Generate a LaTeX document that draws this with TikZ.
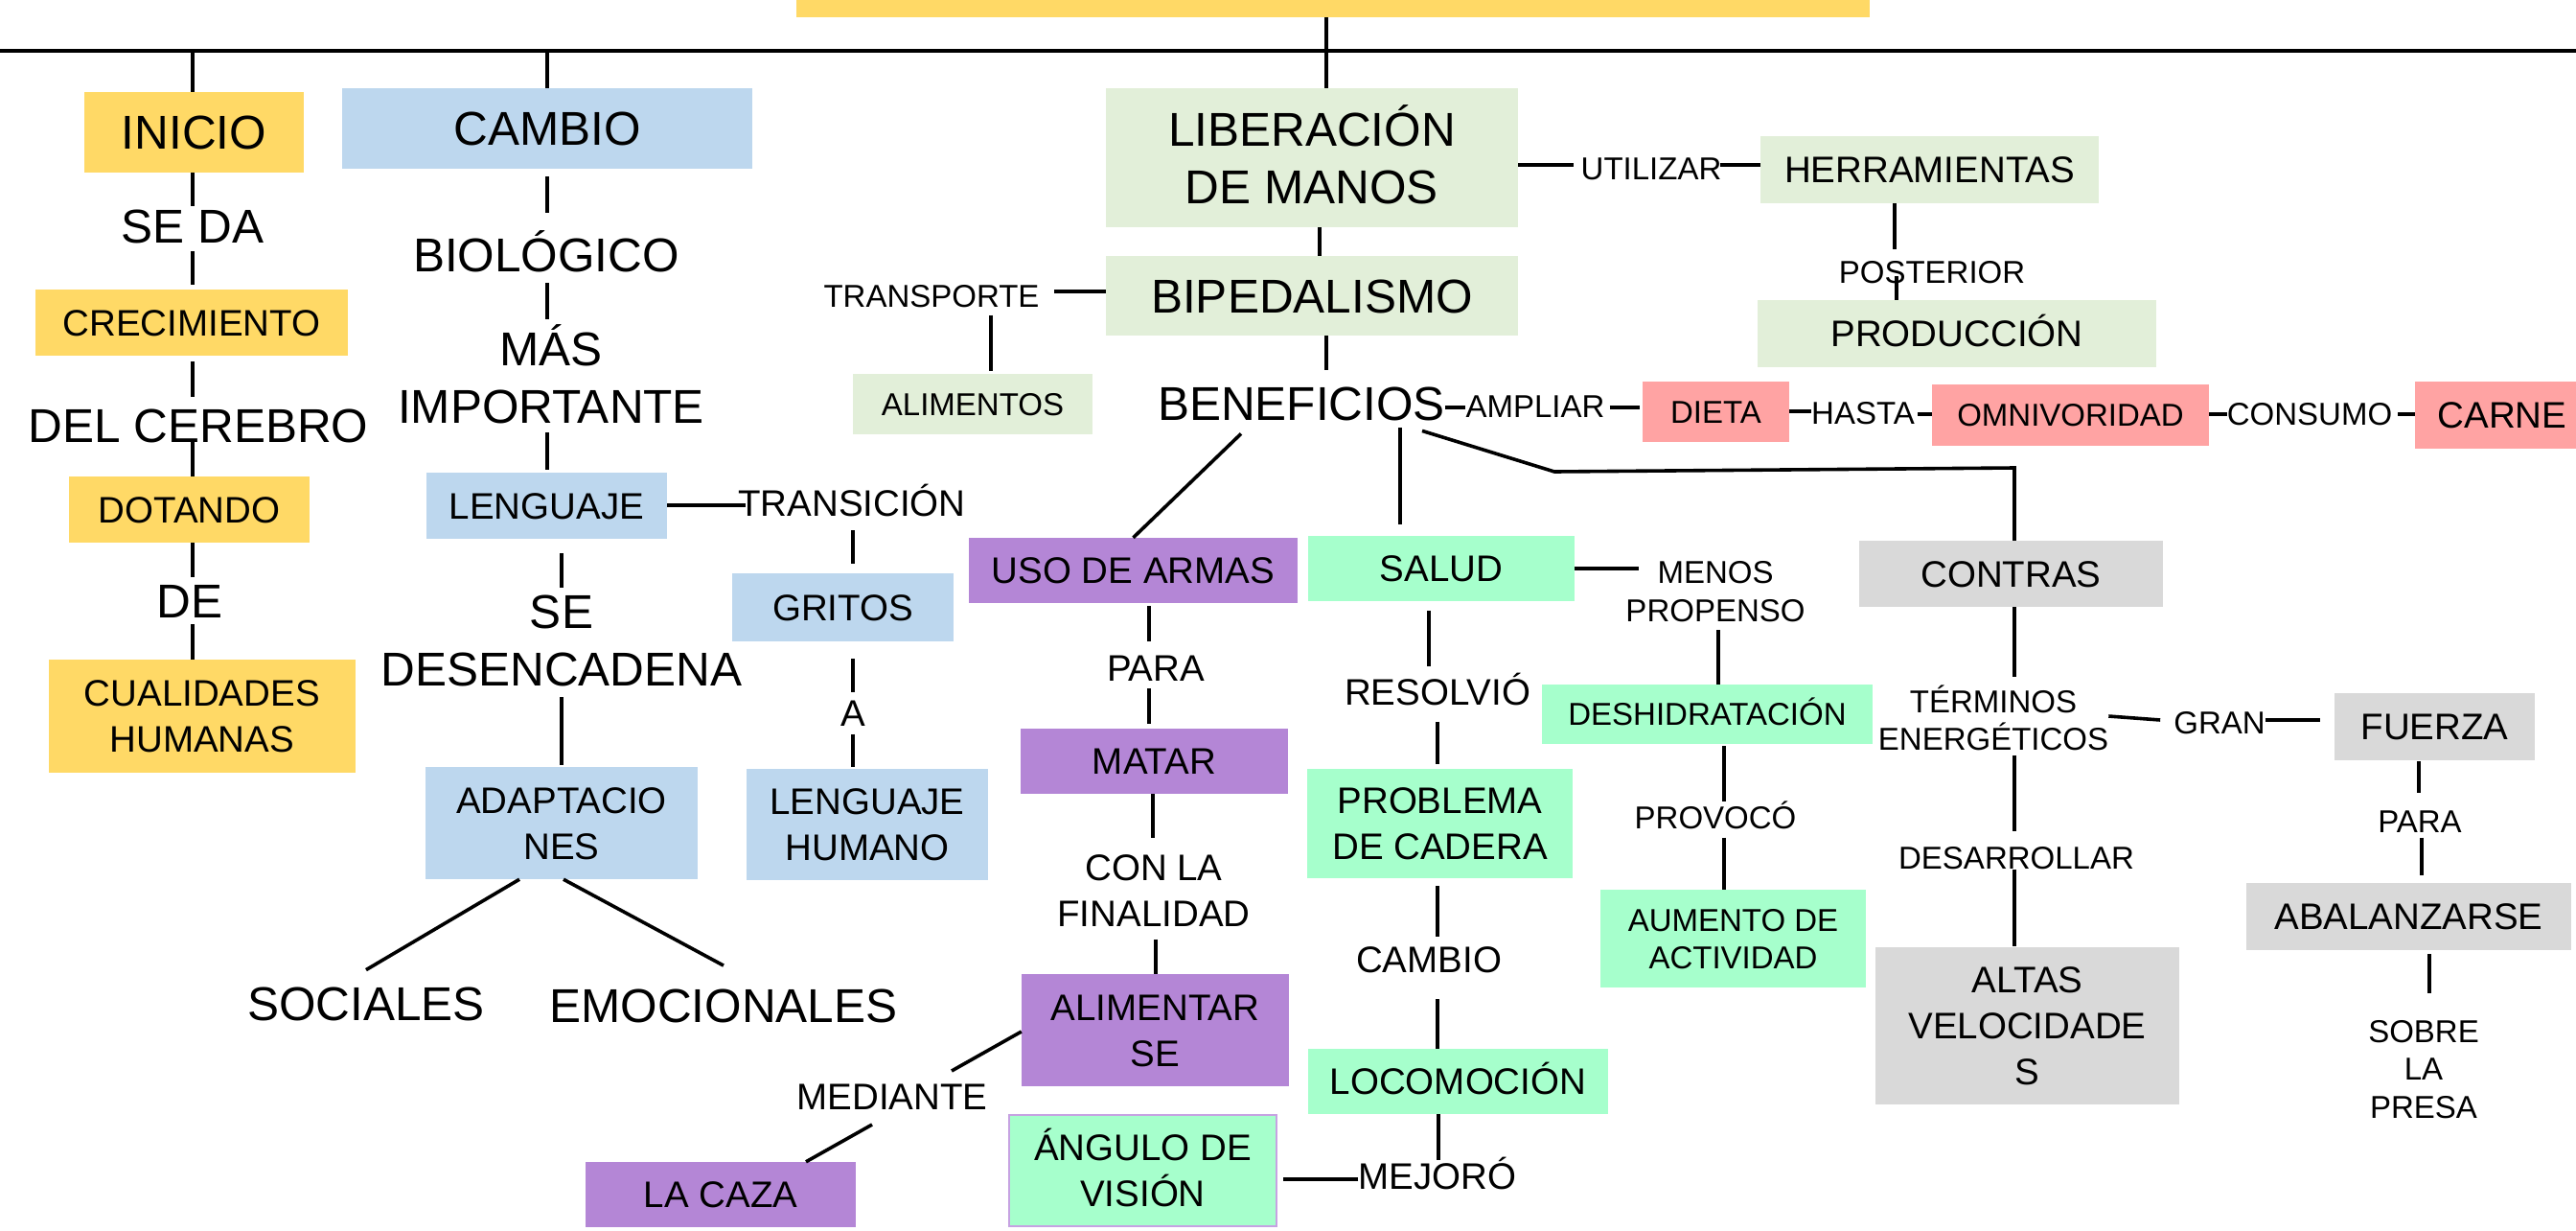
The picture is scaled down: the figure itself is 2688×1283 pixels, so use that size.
\documentclass[tikz,border=0pt]{standalone}
\usepackage{fontspec}
\setmainfont{Liberation Sans}
\usetikzlibrary{calc}
\definecolor{cy}{HTML}{FFD966}
\definecolor{cb}{HTML}{BDD7EE}
\definecolor{cg}{HTML}{E2EFD9}
\definecolor{cr}{HTML}{FFA3A3}
\definecolor{cp}{HTML}{B486D6}
\definecolor{cm}{HTML}{A6FFCC}
\definecolor{cgr}{HTML}{D9D9D9}
\definecolor{angb}{HTML}{C6A2E2}
\newcommand\ML[1]{\vbox{\halign{\hfil##\hfil\cr#1\crcr}}}
\newcommand\fB{\fontsize{49.5pt}{60pt}\selectfont}
\newcommand\fM{\fontsize{38.5pt}{48pt}\selectfont}
\newcommand\fS{\fontsize{33pt}{39.5pt}\selectfont}
\tikzset{
  bx/.style 2 args={minimum width=#1pt, minimum height=#2pt, inner sep=0pt},
  B1/.style={font=\fB, text height=35.4pt, text depth=0pt},
  B2/.style={font=\fB, text height=95.4pt, text depth=0pt},
  M1/.style={font=\fM, text height=27.6pt, text depth=0pt},
  M2/.style={font=\fM, text height=75.6pt, text depth=0pt},
  M3/.style={font=\fM, text height=123.6pt, text depth=0pt},
  S1/.style={font=\fS, text height=23.6pt, text depth=0pt},
  S2/.style={font=\fS, text height=63.1pt, text depth=0pt},
  S3/.style={font=\fS, text height=102.6pt, text depth=0pt},
  ln/.style={line width=3.6pt},
  mainln/.style={line width=4.2pt}
}
\newcommand\vcon[5]{\draw[ln, shorten <=#4pt, shorten >=#5pt] (#1.south -| #3,0) -- (#2.north -| #3,0);}
\begin{document}
\begin{tikzpicture}[x=1pt,y=-1pt, every node/.style={inner sep=0pt}]
\useasboundingbox (0,0) rectangle (2688,1283);
\fill[white] (0,0) rectangle (2688,1283);

% title bar and main line
\node[bx={1120}{60}, fill=cy] (title) at (1391,-12) {};
\coordinate (hl) at (0,53);
\coordinate (hr) at (2688,53);
\draw[mainln] (hl) -- (hr);

% ---------- column 1 ----------
\node[bx={229}{84}, fill=cy, B1] (inicio) at (202.5,138) {INICIO};
\node[B1] (seda) at (201,235.5) {SE DA};
\node[bx={326}{69}, fill=cy, M1] (crec) at (200,336.5) {CRECIMIENTO};
\node[B1] (delc) at (207,444) {DEL CEREBRO};
\node[bx={251}{69}, fill=cy, M1] (dot) at (197.5,531.5) {DOTANDO};
\node[B1] (de) at (198,626.5) {DE};
\node[bx={320.5}{118}, fill=cy, M2] (cual) at (210.75,747) {\ML{CUALIDADES\cr HUMANAS}};

\draw[ln] (inicio.north -| 201,0) -- (hl -| 201,0);
\vcon{inicio}{seda}{201}{0}{3}
\vcon{seda}{crec}{201}{9}{5}
\vcon{crec}{delc}{201}{6}{12}
\vcon{delc}{dot}{201}{-2}{0}
\vcon{dot}{de}{201}{0}{7}
\vcon{de}{cual}{201}{7}{0}

% ---------- column 2 ----------
\node[bx={428}{84}, fill=cb, B1] (cambio) at (571,134) {CAMBIO};
\node[B1] (bio) at (570,265.5) {BIOLÓGICO};
\node[B2] (masimp) at (575,393.5) {\ML{MÁS\cr IMPORTANTE}};
\node[bx={251}{69}, fill=cb, M1] (leng) at (570.5,527.5) {LENGUAJE};
\node[B2] (sedes) at (586,667.5) {\ML{SE\cr DESENCADENA}};
\node[bx={284}{117}, fill=cb, M2] (adap) at (586,858.5) {\ML{ADAPTACIO\cr NES}};
\node[B1] (soc) at (382,1046.5) {SOCIALES};
\node[B1] (emo) at (755,1049) {EMOCIONALES};

\draw[ln] (cambio.north -| 571,0) -- (hl -| 571,0);
\vcon{cambio}{bio}{571}{8}{26}
\vcon{bio}{masimp}{571}{12}{13}
\vcon{masimp}{leng}{571}{10}{3}
\vcon{leng}{sedes}{586}{15}{7}
\vcon{sedes}{adap}{586}{12}{2}
\draw[ln] ($(adap.south)+(-44,0)$) -- ($(soc.north)+(0,-17)$);
\draw[ln] ($(adap.south)+(2,0)$) -- ($(emo.north)+(0,-24)$);

% ---------- transicion ----------
\node[M1] (trans) at (889,525) {TRANSICIÓN};
\node[bx={231}{71}, fill=cb, M1] (gritos) at (879.5,633.5) {GRITOS};
\node[M1] (a) at (890,743.5) {A};
\node[bx={252}{116}, fill=cb, M2] (lh) at (905,860) {\ML{LENGUAJE\cr HUMANO}};

\draw[ln, shorten >=-8pt] (leng.east |- 0,527) -- (trans.west |- 0,527);
\vcon{trans}{gritos}{890}{14}{10}
\vcon{gritos}{a}{890}{18}{8}
\vcon{a}{lh}{890}{8}{2}

% ---------- middle ----------
\node[bx={430}{145}, fill=cg, B2] (lib) at (1369,164.5) {\ML{LIBERACIÓN\cr DE MANOS}};
\node[bx={430}{83}, fill=cg, B1] (bip) at (1369,308.5) {BIPEDALISMO};
\node[S1] (transp) at (972,308.5) {TRANSPORTE};
\node[bx={250}{63}, fill=cg, S1] (alim) at (1015,421.5) {ALIMENTOS};
\node[B1] (ben) at (1358,420.5) {BENEFICIOS};
\node[S1] (util) at (1723,175.5) {UTILIZAR};
\node[bx={353}{70}, fill=cg, M1] (herr) at (2013.5,177) {HERRAMIENTAS};
\node[S1] (post) at (2016,283.5) {POSTERIOR};
\node[bx={416}{70}, fill=cg, M1] (prod) at (2042,348) {PRODUCCIÓN};

\draw[ln] (title.south -| 1384,0) -- (lib.north -| 1384,0);
\vcon{lib}{bip}{1377}{0}{0}
\vcon{bip}{ben}{1384}{0}{17}
\draw[ln, shorten >=15pt] (bip.west |- 0,304) -- (transp.east |- 0,304);
\vcon{transp}{alim}{1034}{8}{3}
\draw[ln, shorten >=7pt] (lib.east |- 0,172) -- (util.west |- 0,172);
\draw[ln, shorten <=-2pt] (util.east |- 0,172) -- (herr.west |- 0,172);
\vcon{herr}{post}{1977}{0}{12}
\vcon{post}{prod}{1979}{-8}{0}

% ---------- diet row ----------
\node[S1] (ampl) at (1602,424) {AMPLIAR};
\node[bx={153}{63}, fill=cr, S1] (dieta) at (1790.5,429.5) {DIETA};
\node[S1] (hasta) at (1944,430.5) {HASTA};
\node[bx={289}{64}, fill=cr, S1] (omni) at (2160.5,433) {OMNIVORIDAD};
\node[S1] (cons) at (2410,432) {CONSUMO};
\node[bx={182}{70}, fill=cr, M1] (carne) at (2611,433) {CARNE};

\draw[ln] (ben.east |- 0,425) -- (ampl.west |- 0,425);
\draw[ln, shorten <=5pt, shorten >=3pt] (ampl.east |- 0,425) -- (dieta.west |- 0,425);
\draw[ln] (dieta.east |- 0,429) -- (hasta.west |- 0,429);
\draw[ln, shorten <=3pt] (hasta.east |- 0,432) -- (omni.west |- 0,432);
\draw[ln] (omni.east |- 0,432) -- (cons.west |- 0,432);
\draw[ln, shorten <=6pt] (cons.east |- 0,432) -- (carne.west |- 0,432);

% ---------- armas ----------
\node[bx={343}{68}, fill=cp, M1] (uso) at (1182.5,595) {USO DE ARMAS};
\node[M1] (para1) at (1206,697) {PARA};
\node[bx={279}{68}, fill=cp, M1] (matar) at (1204.5,794) {MATAR};
\node[M2] (conla) at (1204,928.5) {\ML{CON LA\cr FINALIDAD}};
\node[bx={279}{117}, fill=cp, M2] (alimse) at (1205.5,1074.5) {\ML{ALIMENTAR\cr SE}};
\node[M1] (medi) at (931,1144) {MEDIANTE};
\node[bx={282}{68}, fill=cp, M1] (lacaza) at (752,1246) {LA CAZA};

\draw[ln] ($(ben.south)+(-63,14)$) -- (uso.north);
\vcon{uso}{para1}{1199}{3}{14}
\vcon{para1}{matar}{1199}{7}{5}
\vcon{matar}{conla}{1203}{0}{17}
\vcon{conla}{alimse}{1206}{13}{0}
\draw[ln] (alimse.west |- 0,1076) -- ($(medi.north)+(62,-13)$);
\draw[ln] ($(medi.south)+(-21,15)$) -- ($(lacaza.north)+(89,0)$);

% ---------- salud ----------
\node[bx={278}{68}, fill=cm, M1] (salud) at (1504,593) {SALUD};
\node[S2] (menos) at (1790,616.5) {\ML{MENOS\cr PROPENSO}};
\node[bx={345}{62}, fill=cm, S1] (desh) at (1781.5,745) {DESHIDRATACIÓN};
\node[S1] (prov) at (1790,852.5) {PROVOCÓ};
\node[bx={277}{102}, fill=cm, S2] (aum) at (1808.5,979) {\ML{AUMENTO DE\cr ACTIVIDAD}};
\node[M1] (resol) at (1500,721.5) {RESOLVIÓ};
\node[bx={277}{114}, fill=cm, M2] (prob) at (1502.5,859) {\ML{PROBLEMA\cr DE CADERA}};
\node[M1] (cambio2) at (1491,1001) {CAMBIO};
\node[bx={313}{68}, fill=cm, M1] (loco) at (1521.5,1128) {LOCOMOCIÓN};
\node[M1] (mej) at (1500,1226.5) {MEJORÓ};
\node[bx={279}{116}, fill=cm, draw=angb, line width=2pt, M2] (ang) at (1192.5,1221) {\ML{ÁNGULO DE\cr VISIÓN}};

\draw[ln, shorten <=8pt, shorten >=12pt] (ben.south -| 1461,0) -- (salud.north -| 1461,0);
\draw[ln, shorten >=-14pt] (salud.east |- 0,593) -- (menos.west |- 0,593);
\vcon{menos}{desh}{1793}{9}{0}
\vcon{desh}{prov}{1799}{2}{5}
\vcon{prov}{aum}{1799}{9}{0}
\vcon{salud}{resol}{1491}{10}{13}
\vcon{resol}{prob}{1500}{17}{5}
\vcon{prob}{cambio2}{1500}{8}{10}
\vcon{cambio2}{loco}{1500}{27}{0}
\vcon{loco}{mej}{1501}{0}{3}
\draw[ln, shorten >=6pt] (mej.west |- 0,1230) -- (ang.east |- 0,1230);

% ---------- contras ----------
\node[bx={317}{69}, fill=cgr, M1] (contras) at (2098.5,598.5) {CONTRAS};
\node[S2] (term) at (2080,751) {\ML{TÉRMINOS\cr ENERGÉTICOS}};
\node[S1] (gran) at (2316,753.5) {GRAN};
\node[bx={209}{70}, fill=cgr, M1] (fuerza) at (2540.5,758) {FUERZA};
\node[S1] (para2) at (2525,856.5) {PARA};
\node[bx={339}{70}, fill=cgr, M1] (abal) at (2513.5,956) {ABALANZARSE};
\node[S3] (sobre) at (2529,1115) {\ML{SOBRE\cr LA\cr PRESA}};
\node[S1] (desa) at (2104,894.5) {DESARROLLAR};
\node[bx={317}{164}, fill=cgr, M3] (altas) at (2115.5,1070) {\ML{ALTAS\cr VELOCIDADE\cr S}};

\coordinate (k1) at (1622,492);
\coordinate (k2) at (2102,488);
\draw[ln] ($(ben.south)+(126,11)$) -- (k1) -- (k2) -- (contras.north -| k2);
\vcon{contras}{term}{2102}{0}{13}
\draw[ln] (term.east |- 0,747) -- ($(gran.west)+(-14,-2.5)$);
\draw[ln, shorten >=15pt] (gran.east |- 0,751) -- (fuerza.west |- 0,751);
\vcon{fuerza}{para2}{2524}{1}{18}
\vcon{para2}{abal}{2527}{5}{8}
\vcon{abal}{sobre}{2535}{4}{28}
\vcon{term}{desa}{2102}{5}{16}
\vcon{desa}{altas}{2102}{0}{1}
\end{tikzpicture}
\end{document}
